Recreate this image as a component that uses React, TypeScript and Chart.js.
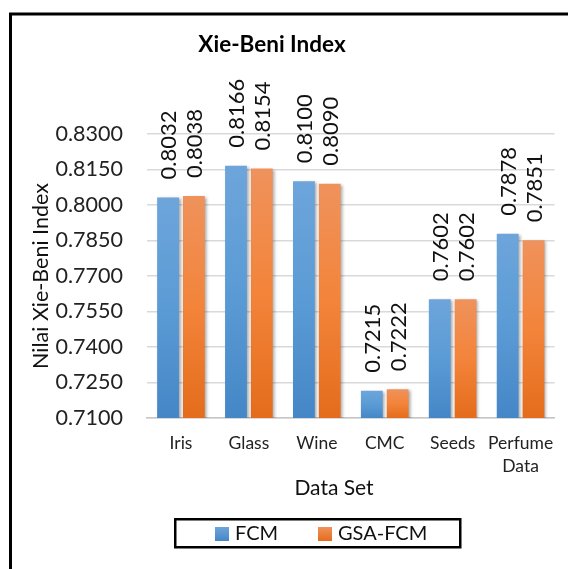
import React, { useEffect, useRef } from 'react';
import { Chart, registerables } from 'chart.js';

Chart.register(...registerables);

const categories = ['Iris', 'Glass', 'Wine', 'CMC', 'Seeds', 'Perfume Data'];
const fcmValues = [0.8032, 0.8166, 0.81, 0.7215, 0.7602, 0.7878];
const gsaFcmValues = [0.8038, 0.8154, 0.809, 0.7222, 0.7602, 0.7851];
const yTickValues = [0.71, 0.725, 0.74, 0.755, 0.77, 0.785, 0.8, 0.815, 0.83];
const seriesNames = ['FCM', 'GSA-FCM'];
const chartTitle = 'Xie-Beni Index';
const xTitle = 'Data Set';
const yTitle = 'Nilai Xie-Beni Index';

const FONT = 'Lato, "Open Sans", sans-serif';
const BLUE = ['#6DA5DB', '#5B9BD5', '#4586C7'];
const ORANGE = ['#EF925C', '#F3843A', '#E46C1C'];

const grad = (cols: string[]) => (c: any) => {
  const chart = c.chart;
  const area = chart.chartArea;
  if (!area || c.type !== 'data' || !chart.scales.y) return cols[1];
  const y = chart.scales.y.getPixelForValue(c.raw);
  const g = chart.ctx.createLinearGradient(0, y, 0, area.bottom);
  g.addColorStop(0, cols[0]);
  g.addColorStop(0.5, cols[1]);
  g.addColorStop(1, cols[2]);
  return g;
};

const decor = {
  id: 'decor',
  beforeDraw(chart: any) {
    const ctx = chart.ctx;
    ctx.save();
    ctx.fillStyle = '#fff';
    ctx.fillRect(0, 0, chart.width, chart.height);
    ctx.strokeStyle = '#000';
    ctx.lineWidth = 3;
    ctx.strokeRect(10.5, 14, 700, 700);
    ctx.fillStyle = '#000';
    ctx.font = `bold 22.5px ${FONT}`;
    ctx.textAlign = 'center';
    ctx.textBaseline = 'middle';
    ctx.fillText(chartTitle, 272, 45);
    ctx.font = `21px ${FONT}`;
    ctx.fillStyle = '#111';
    ctx.fillText(xTitle, 334, 488);
    ctx.restore();
  },
  beforeDatasetsDraw(chart: any) {
    const ctx = chart.ctx;
    ctx.save();
    ctx.shadowColor = 'rgba(0,0,0,0.35)';
    ctx.shadowBlur = 3;
    ctx.shadowOffsetX = 2;
    ctx.shadowOffsetY = 1;
  },
  afterDatasetsDraw(chart: any) {
    const ctx = chart.ctx;
    ctx.restore();
    chart.data.datasets.forEach((ds: any, i: number) => {
      const meta = chart.getDatasetMeta(i);
      meta.data.forEach((bar: any, j: number) => {
        ctx.save();
        ctx.translate(bar.x, bar.y - 18);
        ctx.rotate(-Math.PI / 2);
        ctx.font = `22px ${FONT}`;
        ctx.fillStyle = '#111';
        ctx.textAlign = 'left';
        ctx.textBaseline = 'middle';
        ctx.fillText(Number(ds.data[j]).toFixed(4), 0, 1);
        ctx.restore();
      });
    });
  },
  afterDraw(chart: any) {
    const ctx = chart.ctx;
    ctx.save();
    ctx.strokeStyle = '#000';
    ctx.lineWidth = 2.5;
    ctx.strokeRect(175.25, 519.25, 285, 28);
    ctx.font = `20px ${FONT}`;
    ctx.textBaseline = 'middle';
    ctx.textAlign = 'left';
    const items = [
      { x: 215, cols: BLUE, name: seriesNames[0] },
      { x: 318, cols: ORANGE, name: seriesNames[1] },
    ];
    items.forEach((it) => {
      const g = ctx.createLinearGradient(0, 527, 0, 541);
      g.addColorStop(0, it.cols[0]);
      g.addColorStop(1, it.cols[2]);
      ctx.fillStyle = g;
      ctx.fillRect(it.x, 527, 14, 14);
      ctx.fillStyle = '#111';
      ctx.fillText(it.name, it.x + 20, 534);
    });
    ctx.restore();
  },
};

export default function App() {
  const ref = useRef<HTMLCanvasElement>(null);
  useEffect(() => {
    document.body.style.margin = '0';
    const chart = new Chart(ref.current as HTMLCanvasElement, {
      type: 'bar',
      data: {
        labels: categories.map((c) => (c.includes(' ') ? c.split(' ') : c)),
        datasets: [
          { label: seriesNames[0], data: fcmValues, backgroundColor: grad(BLUE), barPercentage: 0.846, categoryPercentage: 0.76 },
          { label: seriesNames[1], data: gsaFcmValues, backgroundColor: grad(ORANGE), barPercentage: 0.846, categoryPercentage: 0.76 },
        ],
      },
      options: {
        responsive: false,
        animation: false,
        devicePixelRatio: 1,
        layout: { padding: { left: 24, right: 10, top: 134, bottom: 66 } },
        plugins: { legend: { display: false }, title: { display: false }, tooltip: { enabled: false } },
        scales: {
          x: {
            grid: { display: false, drawTicks: false },
            border: { display: true, color: '#c6c6c6', width: 1.5 },
            ticks: { font: { family: FONT, size: 17.5, lineHeight: 1.3 }, color: '#222', padding: 14, maxRotation: 0, autoSkip: false },
            title: { display: false },
            afterFit: (s: any) => { s.height = 85; },
          },
          y: {
            min: 0.71,
            max: 0.83,
            afterBuildTicks: (s: any) => { s.ticks = yTickValues.map((v) => ({ value: v })); },
            grid: { color: '#d9d9d9', drawTicks: false, lineWidth: 1.5 },
            border: { display: false },
            ticks: { font: { family: FONT, size: 21.5 }, color: '#222', padding: 24, callback: (v: any) => Number(v).toFixed(4) },
            title: { display: true, text: yTitle, font: { family: FONT, size: 21.5 }, color: '#111', padding: { top: 4, bottom: 4 } },
            afterFit: (s: any) => { s.width = 123; },
          },
        },
      },
      plugins: [decor],
    } as any);
    return () => chart.destroy();
  }, []);
  return (
    <div style={{ position: 'absolute', left: 0, top: 0, width: 568, height: 569 }}>
      <canvas ref={ref} width={568} height={569} style={{ width: 568, height: 569, display: 'block' }} />
    </div>
  );
}
